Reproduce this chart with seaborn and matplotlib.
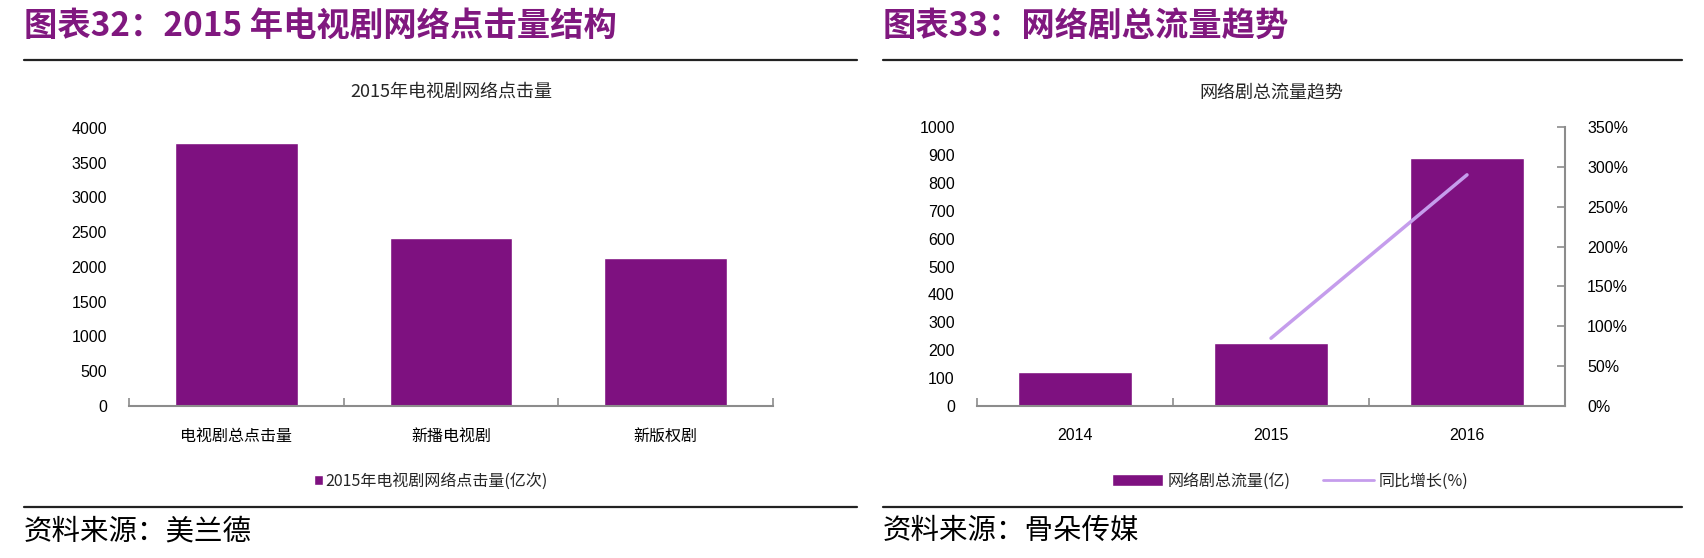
# Two panels: 2015 TV drama online clicks, and web drama traffic trend

import numpy as np
import pandas as pd
import seaborn as sns
from matplotlib import pyplot as plt
from matplotlib.lines import Line2D
from matplotlib.patches import Patch
from matplotlib.ticker import FuncFormatter, MultipleLocator

# left panel data
click_cats = ["电视剧总点击量", "新播电视剧", "新版权剧"]
click_vals = [3780, 2420, 2130]
click_label = "2015年电视剧网络点击量(亿次)"

# right panel data
years = ["2014", "2015", "2016"]
traffic_vals = [122, 227, 890]
growth_years = ["2015", "2016"]
growth_pct = [0.85, 2.90]
traffic_label = "网络剧总流量(亿)"
growth_label = "同比增长(%)"

PURPLE = "#7E1180"
TITLE_PURPLE = "#80187F"
LINE_PURPLE = "#C59DEC"
AXIS_GREY = "#8C8C8C"

sns.set_theme(style="white")
plt.rcParams["font.family"] = ["Liberation Sans", "Noto Sans CJK SC", "DejaVu Sans"]
CJK = ["Noto Sans CJK SC", "DejaVu Sans"]
NUM = ["Liberation Sans", "Noto Sans CJK SC"]

fig = plt.figure(figsize=(17.04, 5.58), dpi=100)


def style_axis(ax, xfamily):
    for side in ["top", "left", "right"]:
        ax.spines[side].set_visible(False)
    ax.spines["bottom"].set_color(AXIS_GREY)
    ax.spines["bottom"].set_linewidth(1.5)
    ax.set_xlabel("")
    ax.set_ylabel("")
    # boundary ticks between categories, like Excel
    ax.set_xticks(np.arange(-0.5, 3.0, 1.0), minor=True)
    ax.tick_params(axis="x", which="minor", direction="in", length=6,
                   width=1.2, color=AXIS_GREY, bottom=True)
    ax.tick_params(axis="x", which="major", length=0, pad=16, labelsize=11.5,
                   labelcolor="black", labelfontfamily=xfamily)
    ax.tick_params(axis="y", length=0, pad=16, labelsize=11.5, labelcolor="black",
                   labelfontfamily=NUM)
    ax.set_xlim(-0.5, 2.5)


# ---- left chart ----
clickDF = pd.DataFrame({"cat": click_cats, "val": click_vals})
ax1 = fig.add_axes([129 / 1704, 0.2724, (773 - 129) / 1704, 0.4985])
sns.barplot(data=clickDF, x="cat", y="val", color=PURPLE, saturation=1,
            width=0.57, ax=ax1)
style_axis(ax1, CJK)
ax1.set_ylim(0, 4000)
ax1.yaxis.set_major_locator(MultipleLocator(500))
fig.text((129 + 773) / 2 / 1704, 1 - 92 / 558, "2015年电视剧网络点击量",
         ha="center", va="center", fontsize=13, family=CJK)
fig.legend(handles=[Patch(facecolor=PURPLE, label=click_label)],
           loc="center", bbox_to_anchor=(431 / 1704, 1 - 481 / 558),
           frameon=False, handlelength=0.6, handleheight=0.6,
           handletextpad=0.15, prop={"family": CJK, "size": 11.5})

# ---- right chart ----
trafficDF = pd.DataFrame({"year": years, "val": traffic_vals})
growthDF = pd.DataFrame({"pos": [years.index(y) for y in growth_years],
                         "pct": growth_pct})
ax2 = fig.add_axes([977 / 1704, 0.2724, (1565 - 977) / 1704, 0.5])
sns.barplot(data=trafficDF, x="year", y="val", color=PURPLE, saturation=1,
            width=0.58, ax=ax2)
style_axis(ax2, NUM)
ax2.set_ylim(0, 1000)
ax2.yaxis.set_major_locator(MultipleLocator(100))

ax3 = ax2.twinx()
sns.lineplot(data=growthDF, x="pos", y="pct", color=LINE_PURPLE, linewidth=2.5,
             ax=ax3)
ax3.set_ylim(0, 3.5)
ax3.set_xlim(-0.5, 2.5)
ax3.yaxis.set_major_locator(MultipleLocator(0.5))
ax3.yaxis.set_major_formatter(FuncFormatter(lambda v, _: f"{v * 100:.0f}%"))
ax3.set_ylabel("")
ax3.set_xlabel("")
for side in ["top", "left", "bottom"]:
    ax3.spines[side].set_visible(False)
ax3.spines["right"].set_visible(True)
ax3.spines["right"].set_color(AXIS_GREY)
ax3.spines["right"].set_linewidth(1.5)
ax3.tick_params(axis="y", direction="in", length=6, width=1.2, color=AXIS_GREY,
                right=True, pad=16, labelsize=11.5, labelcolor="black",
                labelfontfamily=NUM)

fig.text((977 + 1565) / 2 / 1704, 1 - 92 / 558, "网络剧总流量趋势",
         ha="center", va="center", fontsize=13, family=CJK)
fig.legend(handles=[Patch(facecolor=PURPLE, label=traffic_label),
                    Line2D([], [], color=LINE_PURPLE, linewidth=2, label=growth_label)],
           loc="center", bbox_to_anchor=(1290 / 1704, 1 - 481 / 558), ncol=2,
           frameon=False, handlelength=3.2, handleheight=0.7,
           handletextpad=0.3, columnspacing=2.0,
           prop={"family": CJK, "size": 11.5})

# ---- headers, rules and sources ----
for x0, x1, head, src in [(24, 857, "图表32：2015 年电视剧网络点击量结构", "资料来源：美兰德"),
                          (883, 1682, "图表33：网络剧总流量趋势", "资料来源：骨朵传媒")]:
    fig.text(x0 / 1704, 1 - 26 / 558, head, ha="left", va="center", fontsize=24,
             fontweight="bold", color=TITLE_PURPLE, family=CJK)
    fig.add_artist(Line2D([x0 / 1704, x1 / 1704], [1 - 60 / 558] * 2,
                          color="#222222", linewidth=1.6))
    fig.add_artist(Line2D([x0 / 1704, x1 / 1704], [1 - 507 / 558] * 2,
                          color="#222222", linewidth=1.6))
    fig.text(x0 / 1704, 1 - 531 / 558, src, ha="left", va="center", fontsize=20.5,
             color="black", family=CJK)

fig.savefig("out.png", dpi=100, facecolor="white")
